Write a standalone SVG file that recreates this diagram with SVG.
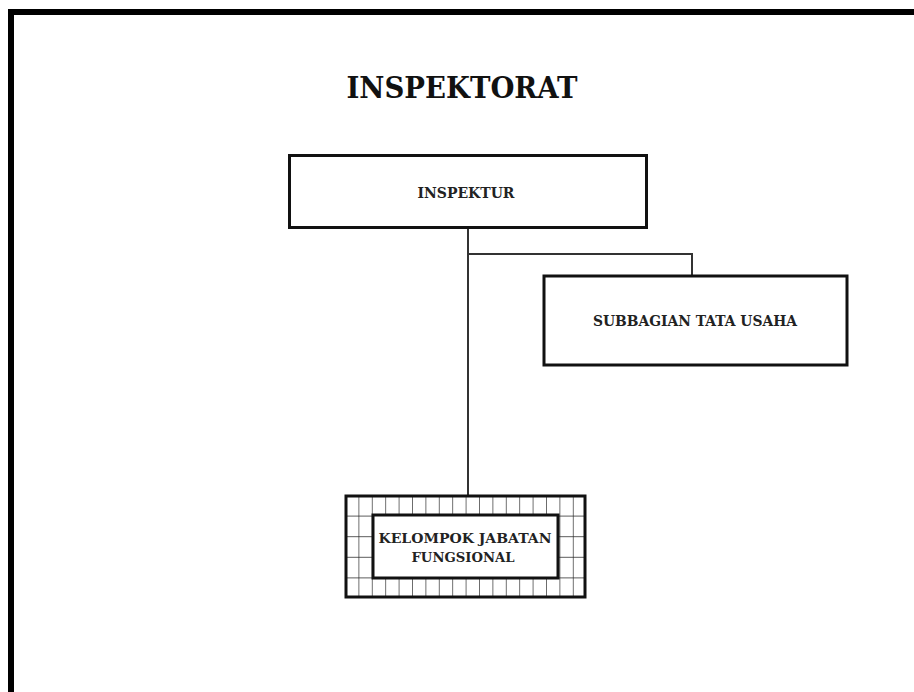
<svg xmlns="http://www.w3.org/2000/svg" width="914" height="692" viewBox="0 0 914 692">
<style>
.box{fill:#fff;stroke:#111;stroke-width:3}
.lbl{font-family:"DejaVu Serif","Liberation Serif",serif;font-weight:bold;fill:#222;text-anchor:middle}
.conn{fill:none;stroke:#333;stroke-width:2}
</style>
<defs>
<pattern id="grid" patternUnits="userSpaceOnUse" x="345" y="495" width="13.4" height="20.6">
<rect width="13.4" height="20.6" fill="#fff"/>
<path d="M0,0 V20.6 M0,0 H13.4" stroke="#222" stroke-width="1.3" fill="none"/>
</pattern>
</defs>
<rect width="914" height="692" fill="#fff"/>
<path d="M11,692 V12 H914" fill="none" stroke="#000" stroke-width="6"/>
<text class="lbl" x="462" y="98" font-size="30" textLength="231" lengthAdjust="spacingAndGlyphs" style="fill:#111">INSPEKTORAT</text>
<g id="connectors">
<path class="conn" d="M468,228 V495"/>
<path class="conn" d="M468,254 H692 V275"/>
</g>
<g id="inspektur">
<rect class="box" x="289.5" y="155.5" width="357" height="72"/>
<text class="lbl" x="466" y="198" font-size="14" textLength="97" lengthAdjust="spacingAndGlyphs">INSPEKTUR</text>
</g>
<g id="subbagian">
<rect class="box" x="544" y="276" width="303" height="89"/>
<text class="lbl" x="695" y="326" font-size="14" textLength="204" lengthAdjust="spacingAndGlyphs">SUBBAGIAN TATA USAHA</text>
</g>
<g id="kelompok">
<rect x="346" y="496" width="239" height="101" fill="url(#grid)" stroke="#111" stroke-width="3"/>
<rect x="373" y="515" width="185" height="63" fill="#fff" stroke="#111" stroke-width="3"/>
<text class="lbl" x="465" y="543" font-size="13" textLength="173" lengthAdjust="spacingAndGlyphs">KELOMPOK JABATAN</text>
<text class="lbl" x="463" y="562" font-size="13" textLength="103" lengthAdjust="spacingAndGlyphs">FUNGSIONAL</text>
</g>
</svg>
